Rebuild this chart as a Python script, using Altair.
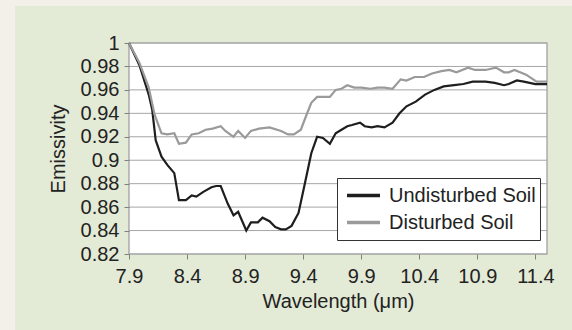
import altair as alt
import pandas as pd

wl_undist = [7.9, 7.99, 8.07, 8.10, 8.13, 8.18, 8.23, 8.29, 8.33, 8.39, 8.44, 8.48, 8.54, 8.61, 8.65, 8.69,
             8.75, 8.80, 8.84, 8.91, 8.95, 9.01, 9.05, 9.11, 9.16, 9.21, 9.25, 9.30, 9.36, 9.41, 9.47, 9.52,
             9.57, 9.63, 9.68, 9.73, 9.78, 9.82, 9.89, 9.93, 9.99, 10.04, 10.10, 10.17, 10.23, 10.29, 10.37,
             10.45, 10.53, 10.61, 10.70, 10.78, 10.86, 10.97, 11.05, 11.13, 11.17, 11.24, 11.30, 11.40, 11.5]
em_undist = [1.0, 0.981, 0.956, 0.943, 0.917, 0.903, 0.896, 0.889, 0.866, 0.866, 0.870, 0.869, 0.873, 0.877,
             0.878, 0.878, 0.863, 0.853, 0.856, 0.840, 0.847, 0.847, 0.851, 0.848, 0.843, 0.841, 0.841, 0.844,
             0.855, 0.878, 0.906, 0.920, 0.919, 0.914, 0.923, 0.926, 0.929, 0.930, 0.932, 0.929, 0.928, 0.929,
             0.928, 0.932, 0.940, 0.946, 0.950, 0.956, 0.960, 0.963, 0.964, 0.965, 0.967, 0.967, 0.966, 0.964,
             0.965, 0.968, 0.967, 0.965, 0.965]

wl_dist = [7.9, 7.99, 8.07, 8.12, 8.18, 8.23, 8.29, 8.33, 8.39, 8.44, 8.50, 8.56, 8.62, 8.69, 8.73, 8.80,
           8.84, 8.90, 8.95, 9.02, 9.11, 9.21, 9.27, 9.32, 9.38, 9.43, 9.47, 9.52, 9.57, 9.63, 9.68, 9.73,
           9.78, 9.84, 9.90, 9.98, 10.04, 10.10, 10.17, 10.24, 10.29, 10.36, 10.44, 10.51, 10.59, 10.66,
           10.72, 10.82, 10.88, 10.97, 11.06, 11.13, 11.17, 11.22, 11.32, 11.41, 11.5]
em_dist = [1.0, 0.983, 0.962, 0.939, 0.923, 0.922, 0.923, 0.914, 0.915, 0.922, 0.923, 0.926, 0.927, 0.929,
           0.925, 0.920, 0.925, 0.919, 0.925, 0.927, 0.928, 0.925, 0.922, 0.922, 0.926, 0.939, 0.949, 0.954,
           0.954, 0.954, 0.960, 0.961, 0.964, 0.962, 0.962, 0.961, 0.962, 0.962, 0.961, 0.969, 0.968, 0.971,
           0.971, 0.974, 0.976, 0.977, 0.975, 0.979, 0.977, 0.977, 0.979, 0.975, 0.975, 0.977, 0.973, 0.967,
           0.967]

series_names = ["Undisturbed Soil", "Disturbed Soil"]
series_colors = ["#1e1e1e", "#9a9a9a"]
x_ticks = [7.9, 8.4, 8.9, 9.4, 9.9, 10.4, 10.9, 11.4]
y_ticks = [0.82, 0.84, 0.86, 0.88, 0.90, 0.92, 0.94, 0.96, 0.98, 1.0]

rows = [{"wl": w, "em": e, "series": series_names[0], "order": i} for i, (w, e) in enumerate(zip(wl_undist, em_undist))]
rows += [{"wl": w, "em": e, "series": series_names[1], "order": i} for i, (w, e) in enumerate(zip(wl_dist, em_dist))]
df = pd.DataFrame(rows)
grid_df = pd.DataFrame({"y": y_ticks})

W, H = 418, 211
L, T = 129, 43
FONT = "Liberation Sans"
TXT = "#222222"

xscale = alt.Scale(domain=[7.9, 11.5], nice=False, zero=False)
yscale = alt.Scale(domain=[0.82, 1.0], nice=False, zero=False)

x_axis = alt.Axis(values=x_ticks, format=".1f", title="Wavelength (μm)", grid=False,
                  domain=False, tickColor="#808080", tickSize=5, labelPadding=7,
                  labelFontSize=20, titleFontSize=20, titleFontWeight="normal",
                  labelColor=TXT, titleColor=TXT, labelFont=FONT, titleFont=FONT,
                  titlePadding=5, zindex=1, labelFlush=False)
y_axis = alt.Axis(values=y_ticks, format=".2~f", title="Emissivity", grid=False,
                  domain=False, tickColor="#808080", tickSize=5, labelPadding=5,
                  labelFontSize=20, titleFontSize=20, titleFontWeight="normal",
                  labelColor=TXT, titleColor=TXT, labelFont=FONT, titleFont=FONT,
                  titlePadding=12, zindex=1, labelFlush=False)

one = alt.Chart(grid_df).transform_filter("datum.y == 1")

green = one.mark_rect(color="#e3ead6").encode(
    x=alt.value(15 - L), x2=alt.value(572 - L), y=alt.value(6 - T), y2=alt.value(330 - T)
)

white = one.mark_rect(fill="white", stroke="#9a9a9a", strokeWidth=1.2).encode(
    x=alt.value(0), x2=alt.value(W), y=alt.value(0), y2=alt.value(H)
)

grid = alt.Chart(grid_df).mark_rule(color="#a6a6a6", strokeWidth=1).encode(
    y=alt.Y("y:Q", scale=yscale, axis=y_axis),
    x=alt.value(0), x2=alt.value(W)
)

lines = alt.Chart(df).mark_line(strokeWidth=2.2).encode(
    x=alt.X("wl:Q", scale=xscale, axis=x_axis),
    y=alt.Y("em:Q", scale=yscale, axis=y_axis),
    color=alt.Color("series:N", scale=alt.Scale(domain=series_names, range=series_colors),
                    legend=alt.Legend(title=None, orient="none", legendX=208, legendY=135,
                                      symbolType="stroke", symbolSize=1089, symbolStrokeWidth=3.5,
                                      clipHeight=27, symbolOffset=4,
                                      labelFontSize=20, labelFont=FONT, labelColor=TXT,
                                      labelOffset=7, rowPadding=0, padding=4,
                                      strokeColor="#333333",
                                      fillColor="white", cornerRadius=0)),
    order="order:Q"
)

chart = alt.layer(green, white, grid, lines).properties(
    width=W, height=H,
    autosize=alt.AutoSizeParams(type="none"),
    padding={"left": L, "top": T, "right": 572 - L - W, "bottom": 330 - T - H},
    background="#f3efe9"
).configure_view(stroke=None)

chart.save("out.html", embed_options={"renderer": "svg", "actions": False})
